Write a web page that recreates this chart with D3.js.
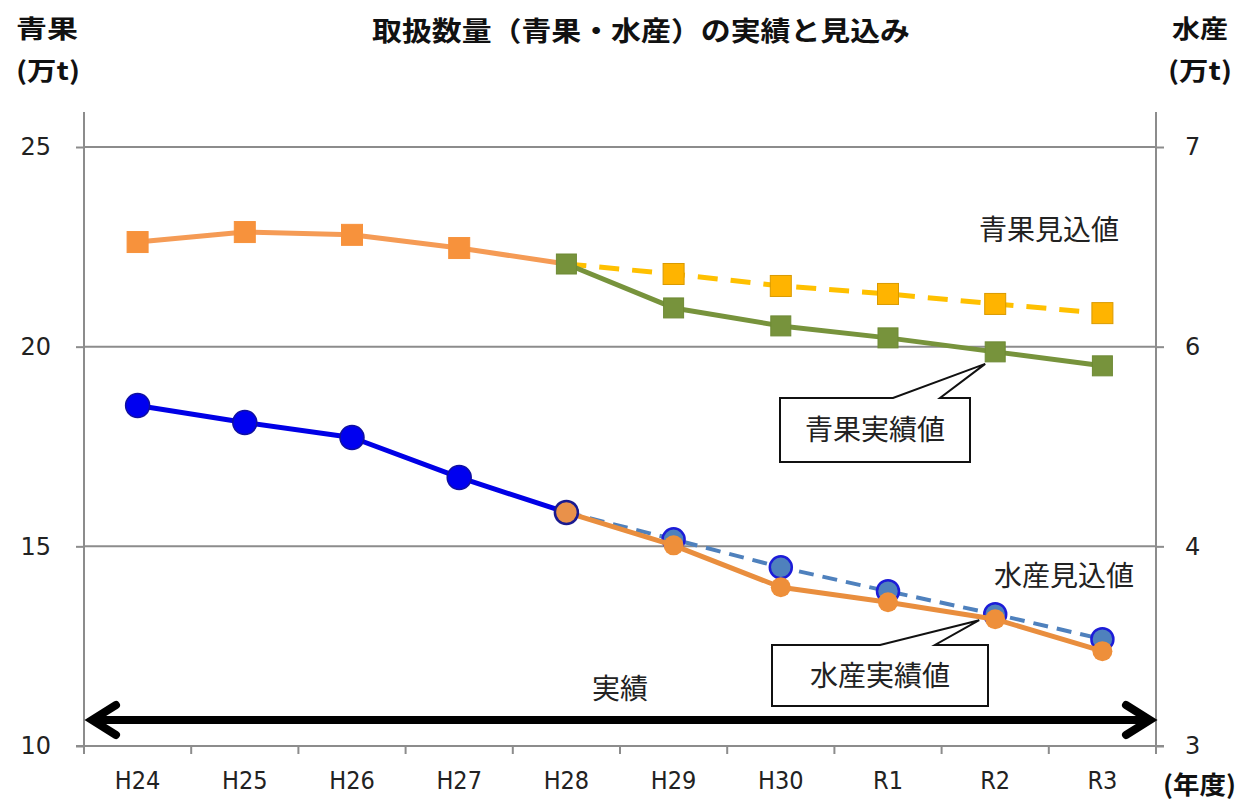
<!DOCTYPE html>
<html><head><meta charset="utf-8">
<script src="https://cdn.jsdelivr.net/npm/d3@7"></script>
<style>
html,body{margin:0;padding:0;background:#fff;}
svg{display:block;}
</style></head>
<body>
<svg id="chart" width="1239" height="804"></svg>
<script>
// ---- data ----
const categories = ["H24","H25","H26","H27","H28","H29","H30","R1","R2","R3"];
// 青果 (万t) left axis
const seikaActualCats = ["H24","H25","H26","H27","H28"];
const seikaActual = [22.62, 22.87, 22.8, 22.47, 22.07];
const seikaJissekiCats = ["H28","H29","H30","R1","R2","R3"];
const seikaJisseki = [22.07, 20.97, 20.52, 20.22, 19.87, 19.52];
const seikaMikomiCats = ["H28","H29","H30","R1","R2","R3"];
const seikaMikomi = [22.07, 21.82, 21.52, 21.32, 21.07, 20.84];
// 水産 (万t) right axis
const suisanActualCats = ["H24","H25","H26","H27","H28"];
const suisanActual = [5.41, 5.24, 5.09, 4.69, 4.34];
const suisanMikomiCats = ["H28","H29","H30","R1","R2","R3"];
const suisanMikomi = [4.34, 4.07, 3.895, 3.775, 3.66, 3.535];
const suisanJissekiCats = ["H28","H29","H30","R1","R2","R3"];
const suisanJisseki = [4.34, 4.01, 3.795, 3.72, 3.635, 3.475];
const leftTicks = [10, 15, 20, 25];
const rightTicks = [3, 4, 6, 7];

const svg = d3.select("#chart");
const L = 84, R = 1156, T = 147, B = 746;
const x = d3.scaleBand().domain(categories).range([L, R]);
const cx = c => x(c) + x.bandwidth() / 2;
const y = d3.scaleLinear().domain([10, 25]).range([B, T]);
// right axis labels are 3,4,6,7 on the same gridlines (piecewise scale)
const yR = d3.scaleLinear().domain(rightTicks).range(leftTicks.map(y));

const zip = (cats, vals) => cats.map((c, i) => ({c, v: vals[i]}));

// gridlines
svg.append("g").selectAll("line").data(leftTicks.slice(1)).join("line")
  .attr("x1", L).attr("x2", R).attr("y1", d => y(d)).attr("y2", d => y(d))
  .attr("stroke", "#8c8c8c").attr("stroke-width", 2);

// axes
const gray = "#8c8c8c";
const axL = svg.append("g").attr("transform", `translate(${L},0)`)
  .call(d3.axisLeft(y).tickValues(leftTicks).tickSize(8).tickPadding(25).tickFormat(d3.format("d")));
const axR = svg.append("g").attr("transform", `translate(${R},0)`)
  .call(d3.axisRight(yR).tickValues(rightTicks).tickSize(8).tickPadding(21).tickFormat(d3.format("d")));
const axB = svg.append("g").attr("transform", `translate(0,${B})`)
  .call(d3.axisBottom(x).tickSize(0).tickPadding(25));
[axL, axR, axB].forEach(a => {
  a.select(".domain").remove();
  a.selectAll("line").attr("stroke", gray).attr("stroke-width", 2);
  a.selectAll("text").attr("fill", "#222");
});
axL.selectAll("text").attr("font-family", "DejaVu Sans").attr("font-size", 24);
axR.selectAll("text").attr("font-family", "DejaVu Sans").attr("font-size", 24);
axB.selectAll("text").attr("font-family", "'Liberation Sans Narrow', 'DejaVu Sans Condensed', sans-serif").attr("font-size", 25);
// axis lines
svg.append("line").attr("x1", L).attr("x2", L).attr("y1", 112).attr("y2", B + 8).attr("stroke", gray).attr("stroke-width", 2);
svg.append("line").attr("x1", R).attr("x2", R).attr("y1", 112).attr("y2", B + 8).attr("stroke", gray).attr("stroke-width", 2);
svg.append("line").attr("x1", L - 8).attr("x2", R + 8).attr("y1", B).attr("y2", B).attr("stroke", gray).attr("stroke-width", 2);
// category boundary ticks
svg.append("g").selectAll("line").data(categories.slice(1)).join("line")
  .attr("x1", d => x(d)).attr("x2", d => x(d)).attr("y1", B).attr("y2", B + 8)
  .attr("stroke", gray).attr("stroke-width", 2);

// ---- lines ----
const lineL = d3.line().x(d => cx(d.c)).y(d => y(d.v));
const lineR = d3.line().x(d => cx(d.c)).y(d => yR(d.v));

function squares(data, fill, stroke, size) {
  svg.append("g").selectAll("rect").data(data).join("rect")
    .attr("x", d => cx(d.c) - size / 2).attr("y", d => y(d.v) - size / 2)
    .attr("width", size).attr("height", size)
    .attr("fill", fill).attr("stroke", stroke).attr("stroke-width", 1);
}
function circles(data, fill, stroke, r, sw) {
  svg.append("g").selectAll("circle").data(data).join("circle")
    .attr("cx", d => cx(d.c)).attr("cy", d => yR(d.v)).attr("r", r)
    .attr("fill", fill).attr("stroke", stroke).attr("stroke-width", sw);
}

// 青果 actual (orange)
const sa = zip(seikaActualCats, seikaActual);
svg.append("path").datum(sa).attr("d", lineL).attr("fill", "none")
  .attr("stroke", "#F59B55").attr("stroke-width", 5).attr("stroke-linejoin", "round");
squares(sa.slice(0, 4), "#F7923C", "#F7923C", 21);
// 青果 見込 (yellow dashed)
const sm = zip(seikaMikomiCats, seikaMikomi);
svg.append("path").datum(sm).attr("d", lineL).attr("fill", "none")
  .attr("stroke", "#FFC000").attr("stroke-width", 5).attr("stroke-dasharray", "20,13");
squares(sm.slice(1), "#FFB400", "#D99A00", 21);
// 青果 実績 (green)
const sj = zip(seikaJissekiCats, seikaJisseki);
svg.append("path").datum(sj).attr("d", lineL).attr("fill", "none")
  .attr("stroke", "#77933C").attr("stroke-width", 5).attr("stroke-linejoin", "round");
squares(sj, "#77933C", "#6E8A35", 20);

// 水産 actual (blue)
const ua = zip(suisanActualCats, suisanActual);
svg.append("path").datum(ua).attr("d", lineR).attr("fill", "none")
  .attr("stroke", "#0000E6").attr("stroke-width", 5).attr("stroke-linejoin", "round");
circles(ua.slice(0, 4), "#0000F0", "#1010A0", 12, 1.5);
// 水産 見込 (blue dashed)
const um = zip(suisanMikomiCats, suisanMikomi);
svg.append("path").datum(um).attr("d", lineR).attr("fill", "none")
  .attr("stroke", "#4F81BD").attr("stroke-width", 4).attr("stroke-dasharray", "15,9");
circles(um.slice(1), "#4F81BD", "#1C1CD8", 11, 2.5);
// 水産 実績 (orange)
const uj = zip(suisanJissekiCats, suisanJisseki);
svg.append("path").datum(uj).attr("d", lineR).attr("fill", "none")
  .attr("stroke", "#E98E3E").attr("stroke-width", 5).attr("stroke-linejoin", "round");
circles(uj.slice(0, 1), "#E9914A", "#1A1A90", 11.5, 2.5);
circles(uj.slice(1), "#EE8F3A", "none", 10, 0);

// ---- texts ----
const jp = "Noto Sans CJK JP";
svg.append("text").attr("x", 641).attr("y", 41).attr("text-anchor", "middle")
  .attr("font-family", jp).attr("font-weight", "bold").attr("font-size", 27)
  .attr("textLength", 538).attr("lengthAdjust", "spacingAndGlyphs").attr("fill", "#111")
  .text("取扱数量（青果・水産）の実績と見込み");
const bold = (t, xx, yy, anchor, w) => svg.append("text").attr("x", xx).attr("y", yy)
  .attr("text-anchor", anchor).attr("font-family", jp).attr("font-weight", "bold")
  .attr("font-size", 25).attr("fill", "#111").attr("textLength", w).attr("lengthAdjust", "spacingAndGlyphs").text(t);
bold("青果", 16, 38, "start", 62);
bold("(万t)", 16, 80, "start", 64);
bold("水産", 1172, 38, "start", 56);
bold("(万t)", 1168, 80, "start", 64);
bold("(年度)", 1163, 794, "start", 73);

const reg = (t, xx, yy, fs) => svg.append("text").attr("x", xx).attr("y", yy)
  .attr("text-anchor", "middle").attr("font-family", jp).attr("font-size", fs).attr("fill", "#222").text(t);
reg("青果見込値", 1049, 240, 28);
reg("水産見込値", 1064, 586, 28);
reg("実績", 620, 699, 28);

// callouts
function callout(bx, by, bw, bh, b1, tipX, tipY, b2, text) {
  const p = `M${bx},${by} L${b1},${by} L${tipX},${tipY} L${b2},${by} L${bx + bw},${by} L${bx + bw},${by + bh} L${bx},${by + bh} Z`;
  svg.append("path").attr("d", p).attr("fill", "#fff").attr("stroke", "#111").attr("stroke-width", 2);
  reg(text, bx + bw / 2, by + bh / 2 + 10, 28);
}
callout(780, 398, 190, 64, 893, cx("R2") - 10, y(seikaJisseki[4]) + 12, 940, "青果実績値");
callout(772, 645, 216, 61, 880, cx("R2") - 16, yR(suisanJisseki[4]) + 1, 935, "水産実績値");

// double arrow
const ay = 720;
svg.append("line").attr("x1", 92).attr("x2", R - 6).attr("y1", ay).attr("y2", ay)
  .attr("stroke", "#000").attr("stroke-width", 8);
svg.append("path").attr("d", `M116,${ay - 15} L92,${ay} L116,${ay + 15}`)
  .attr("fill", "none").attr("stroke", "#000").attr("stroke-width", 8).attr("stroke-linecap", "round");
svg.append("path").attr("d", `M${R - 30},${ay - 15} L${R - 6},${ay} L${R - 30},${ay + 15}`)
  .attr("fill", "none").attr("stroke", "#000").attr("stroke-width", 8).attr("stroke-linecap", "round");
</script>
</body></html>
